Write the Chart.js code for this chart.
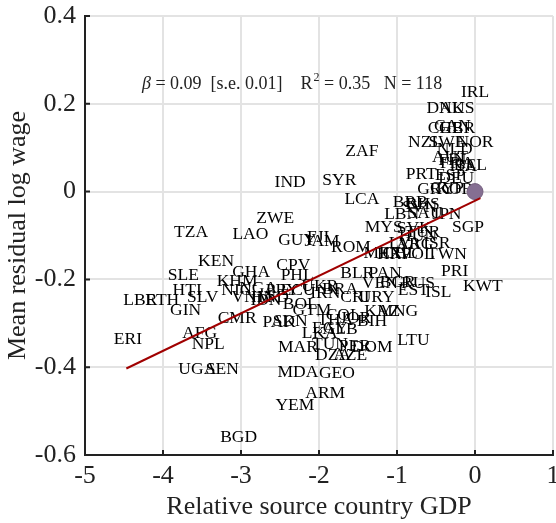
<!DOCTYPE html>
<html>
<head>
<meta charset="utf-8">
<script src="https://cdn.jsdelivr.net/npm/chart.js@4.4.0/dist/chart.umd.min.js"></script>
<style>
  body { margin: 0; background: #fff; }
</style>
</head>
<body>
<canvas id="grafico" width="556" height="523"></canvas>
<script>
// codigos dos paises e valores
const paises = ['IRL','DNK','AUS','CHE','CAN','GBR','NZL','SWE','NOR','NLD','AUT','FIN','FRA','ITA','BEL',
  'PRT','ESP','DEU','GRC','CYP','KOR','BRB','BHS','SVN','LBN','SAU','JPN','MYS','SVK','SGP','HUN','TUR',
  'LVA','ARG','ISR','MEX','CHL','HRV','POL','TWN','PRI','KWT','PAN','BLR','VEN','BGR','RUS','EST','ISL',
  'LTU','ZAF','IND','SYR','LCA','ZWE','TZA','LAO','GUY','FJI','JAM','ROM','CPV','PHL','GHA','KEN','SLE',
  'HTI','SLV','GIN','LBR','ETH','ERI','KHM','NIC','NGA','VNM','HND','IDN','PRY','ECU','UKR','IRN','BRA',
  'CRI','URY','BOL','GTM','PAK','SDN','CMR','AFG','NPL','UGA','SEN','COL','KAZ','MNG','JOR','BIH','THA',
  'EGY','LKA','ALB','MAR','TUN','PER','DOM','DZA','AZE','MDA','GEO','ARM','YEM','BGD'];

const gdpRel = [0.00,-0.38,-0.23,-0.38,-0.29,-0.23,-0.64,-0.36,0.00,-0.26,-0.32,-0.29,-0.23,-0.15,-0.06,
  -0.69,-0.32,-0.24,-0.51,-0.36,-0.26,-0.83,-0.67,-0.71,-0.94,-0.64,-0.36,-1.17,-0.78,-0.09,-0.73,-0.67,
  -0.90,-0.77,-0.49,-1.18,-0.96,-1.03,-0.73,-0.36,-0.26,0.10,-1.15,-1.51,-1.22,-0.99,-0.73,-0.79,-0.47,
  -0.79,-1.45,-2.37,-1.74,-1.45,-2.56,-3.64,-2.88,-2.28,-2.01,-1.96,-1.59,-2.33,-2.28,-2.87,-3.32,-3.74,
  -3.69,-3.49,-3.71,-4.29,-4.01,-4.45,-3.05,-3.06,-2.78,-2.86,-2.63,-2.68,-2.47,-2.27,-1.99,-1.92,-1.73,
  -1.54,-1.26,-2.24,-2.09,-2.51,-2.37,-3.05,-3.53,-3.42,-3.56,-3.24,-1.69,-1.19,-0.99,-1.53,-1.32,-1.79,
  -1.86,-1.99,-1.73,-2.27,-1.86,-1.54,-1.32,-1.82,-1.60,-2.27,-1.77,-1.92,-2.31,-3.03];

const salario = [0.225,0.190,0.190,0.145,0.149,0.143,0.113,0.113,0.113,0.095,0.079,0.072,0.065,0.058,0.060,
  0.040,0.038,0.031,0.004,0.008,0.004,-0.025,-0.030,-0.037,-0.053,-0.049,-0.053,-0.081,-0.083,-0.081,-0.101,-0.092,
  -0.119,-0.121,-0.117,-0.140,-0.140,-0.144,-0.144,-0.144,-0.181,-0.217,-0.186,-0.186,-0.208,-0.206,-0.208,-0.224,-0.229,
  -0.338,0.092,0.022,0.026,-0.017,-0.062,-0.094,-0.097,-0.111,-0.104,-0.113,-0.126,-0.167,-0.190,-0.185,-0.160,-0.190,
  -0.224,-0.240,-0.270,-0.247,-0.247,-0.336,-0.204,-0.226,-0.220,-0.242,-0.240,-0.247,-0.224,-0.226,-0.217,-0.231,-0.222,
  -0.240,-0.242,-0.258,-0.270,-0.299,-0.295,-0.288,-0.322,-0.349,-0.406,-0.406,-0.281,-0.272,-0.272,-0.288,-0.295,-0.293,
  -0.311,-0.322,-0.315,-0.354,-0.349,-0.352,-0.356,-0.372,-0.372,-0.411,-0.413,-0.459,-0.486,-0.559];

// reta de ajuste (pontos extremos) e ponto de referencia (EUA)
const ajusteX = [-4.47, 0.07];
const ajusteY = [-0.403, -0.015];
const refX = [0];
const refY = [0];

const xTicks = [-5, -4, -3, -2, -1, 0, 1];
const xTickLabels = ['-5', '-4', '-3', '-2', '-1', '0', '1'];
const yTicks = [-0.6, -0.4, -0.2, 0, 0.2, 0.4];
const yTickLabels = ['-0.6', '-0.4', '-0.2', '0', '0.2', '0.4'];

const fonte = 'Liberation Serif';

const rotulos = {
  id: 'rotulos',
  beforeDatasetsDraw(chart) {
    const { ctx, scales: { x, y } } = chart;
    ctx.save();
    ctx.font = '17.5px "' + fonte + '"';
    ctx.fillStyle = '#000';
    ctx.textAlign = 'center';
    ctx.textBaseline = 'middle';
    paises.forEach((p, i) => {
      ctx.fillText(p, x.getPixelForValue(gdpRel[i]), y.getPixelForValue(salario[i]));
    });
    ctx.restore();
  }
};

const marcas = {
  id: 'marcas',
  afterDatasetsDraw(chart) {
    const { ctx, chartArea: a, scales: { x, y } } = chart;
    ctx.save();
    ctx.strokeStyle = '#222';
    ctx.lineWidth = 2;
    ctx.beginPath();
    xTicks.forEach(v => {
      const px = x.getPixelForValue(v);
      ctx.moveTo(px, a.bottom);
      ctx.lineTo(px, a.bottom - 5);
    });
    yTicks.forEach(v => {
      const py = y.getPixelForValue(v);
      ctx.moveTo(a.left, py);
      ctx.lineTo(a.left + 5, py);
    });
    ctx.stroke();

    // texto da regressao
    let px = x.getPixelForValue(-4.27);
    const py = y.getPixelForValue(0.234);
    ctx.fillStyle = '#222';
    ctx.textBaseline = 'alphabetic';
    ctx.textAlign = 'left';
    ctx.font = 'italic 18px "' + fonte + '"';
    ctx.fillText('\u03B2', px, py);
    px += ctx.measureText('\u03B2').width;
    ctx.font = '18px "' + fonte + '"';
    let t = ' = 0.09  [s.e. 0.01]    R';
    ctx.fillText(t, px, py);
    px += ctx.measureText(t).width;
    ctx.font = '12px "' + fonte + '"';
    ctx.fillText('2', px + 1, py - 8);
    px += ctx.measureText('2').width + 1;
    ctx.font = '18px "' + fonte + '"';
    ctx.fillText(' = 0.35   N = 118', px, py);
    ctx.restore();
  }
};

new Chart(document.getElementById('grafico'), {
  type: 'scatter',
  data: {
    datasets: [
      {
        type: 'line',
        data: ajusteX.map((v, i) => ({ x: v, y: ajusteY[i] })),
        borderColor: '#a00000',
        borderWidth: 2,
        pointRadius: 0,
        fill: false
      },
      {
        data: refX.map((v, i) => ({ x: v, y: refY[i] })),
        backgroundColor: '#856f92',
        borderColor: '#75607f',
        borderWidth: 1,
        pointRadius: 8
      },
      {
        data: paises.map((p, i) => ({ x: gdpRel[i], y: salario[i] })),
        pointRadius: 0
      }
    ]
  },
  options: {
    responsive: false,
    animation: false,
    devicePixelRatio: 1,
    layout: { autoPadding: false, padding: { top: 16, right: 3 } },
    plugins: { legend: { display: false }, tooltip: { enabled: false } },
    scales: {
      x: {
        type: 'linear',
        min: -5,
        max: 1,
        afterBuildTicks(s) { s.ticks = xTicks.map(v => ({ value: v })); },
        afterFit(s) { s.height = 68; s.paddingLeft = 0; s.paddingRight = 0; },
        grid: { color: '#e3e3e3', lineWidth: 2, drawTicks: false },
        border: { color: '#222', width: 2 },
        ticks: {
          font: { family: fonte, size: 26 },
          color: '#222',
          padding: 6,
          maxRotation: 0,
          autoSkip: false,
          callback: (v, i) => xTickLabels[i]
        },
        title: {
          display: true,
          text: 'Relative source country GDP',
          font: { family: fonte, size: 26 },
          color: '#222',
          padding: { top: 0, bottom: 0 }
        }
      },
      y: {
        type: 'linear',
        min: -0.6,
        max: 0.4,
        afterBuildTicks(s) { s.ticks = yTicks.map(v => ({ value: v })); },
        afterFit(s) { s.width = 85; s.paddingTop = 0; s.paddingBottom = 0; },
        grid: { color: '#e3e3e3', lineWidth: 2, drawTicks: false },
        border: { color: '#222', width: 2 },
        ticks: {
          font: { family: fonte, size: 26 },
          color: '#222',
          padding: 9,
          autoSkip: false,
          callback: (v, i) => yTickLabels[i]
        },
        title: {
          display: true,
          text: 'Mean residual log wage',
          font: { family: fonte, size: 26 },
          color: '#222',
          padding: { top: 3, bottom: 0 }
        }
      }
    }
  },
  plugins: [rotulos, marcas]
});
</script>
</body>
</html>
